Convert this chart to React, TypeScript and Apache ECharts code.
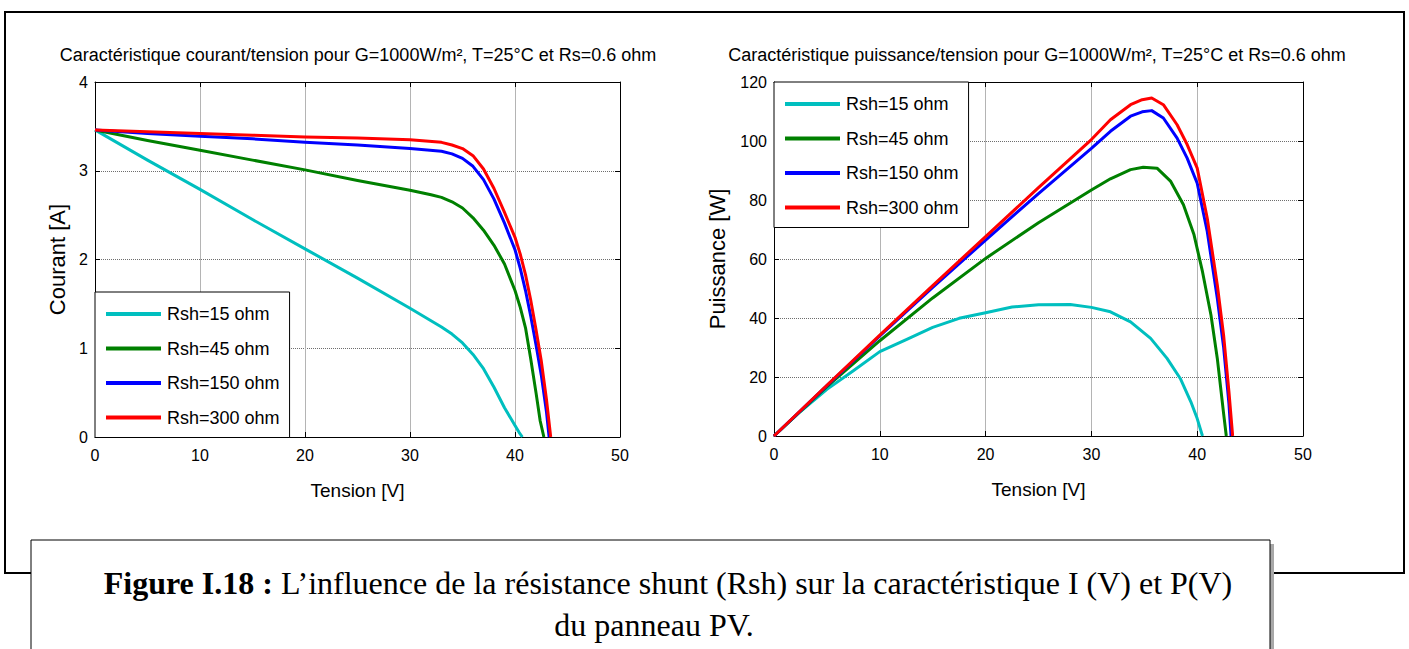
import React, { useEffect, useRef } from "react";
import * as echarts from "echarts";

// ---- Data ----
const seriesNames = ["Rsh=15 ohm", "Rsh=45 ohm", "Rsh=150 ohm", "Rsh=300 ohm"];
const seriesColors = ["#00BFBF", "#008000", "#0000FF", "#FF0000"];

// Current / voltage (left chart)
const ivV15 = [0, 5, 10, 15, 20, 25, 30, 33, 34, 35, 36, 37, 38, 39, 40, 40.4, 40.7];
const ivI15 = [3.46, 3.12, 2.79, 2.45, 2.12, 1.79, 1.45, 1.24, 1.16, 1.06, 0.93, 0.77, 0.56, 0.33, 0.13, 0.05, 0];
const ivV45 = [0, 5, 10, 15, 20, 25, 30, 32, 33, 34, 35, 36, 37, 38, 39, 40, 40.5, 41, 41.5, 42, 42.4, 42.75];
const ivI45 = [3.46, 3.34, 3.23, 3.12, 3.01, 2.89, 2.78, 2.73, 2.7, 2.65, 2.58, 2.47, 2.33, 2.16, 1.95, 1.65, 1.46, 1.23, 0.88, 0.5, 0.18, 0];
const ivV150 = [0, 5, 10, 15, 20, 25, 30, 33, 34, 35, 36, 37, 38, 39, 40, 40.5, 41, 41.5, 42, 42.5, 43, 43.25];
const ivI150 = [3.46, 3.42, 3.39, 3.36, 3.32, 3.29, 3.25, 3.22, 3.19, 3.14, 3.05, 2.9, 2.68, 2.41, 2.11, 1.9, 1.65, 1.36, 1.04, 0.7, 0.28, 0];
const ivV300 = [0, 5, 10, 15, 20, 25, 30, 33, 34, 35, 36, 37, 38, 39, 40, 40.5, 41, 41.5, 42, 42.5, 43, 43.4];
const ivI300 = [3.46, 3.44, 3.42, 3.4, 3.38, 3.37, 3.35, 3.32, 3.29, 3.25, 3.17, 3.02, 2.8, 2.53, 2.25, 2.06, 1.83, 1.54, 1.21, 0.86, 0.42, 0];

// Power / voltage (right chart)
const pvV15 = [0, 2.5, 5, 7.5, 10, 12.5, 15, 17.5, 20, 22.5, 25, 28, 30, 31.8, 33.7, 35.6, 37.15, 38.4, 39.4, 40, 40.5];
const pvP15 = [0, 8.3, 15.8, 22.1, 28.6, 32.7, 36.8, 39.9, 41.8, 43.7, 44.5, 44.6, 43.6, 42.1, 38.7, 33.1, 26.3, 19.5, 11.6, 5.9, 0];
const pvV45 = [0, 5, 10, 15, 20, 25, 30, 31.8, 33.7, 34.9, 36.2, 37.5, 38.7, 39.7, 40.5, 41.3, 41.9, 42.5, 42.75];
const pvP45 = [0, 16.7, 32.3, 46.8, 60.2, 72.3, 83.4, 87.2, 90.3, 91.1, 90.8, 86.3, 78.4, 68.2, 55.7, 41, 26.3, 7.5, 0];
const pvV150 = [0, 5, 10, 15, 20, 25, 30, 31.8, 33.7, 34.8, 35.7, 36.8, 38.1, 39.05, 40, 40.95, 41.9, 42.5, 43, 43.2];
const pvP150 = [0, 17.1, 33.9, 50.4, 66.4, 82.2, 97.5, 103.3, 108.4, 109.9, 110.3, 107.8, 101, 94.2, 85.7, 69.3, 46.7, 30, 11, 0];
const pvV300 = [0, 5, 10, 15, 20, 25, 30, 31.8, 33.7, 34.8, 35.7, 36.8, 38.1, 39.05, 40, 40.95, 41.9, 42.5, 43, 43.35];
const pvP300 = [0, 17.2, 34.2, 51, 67.6, 84.2, 100.5, 107.2, 112.3, 114, 114.6, 112.3, 105.5, 98.8, 90.8, 73.8, 51.2, 34, 15, 0];

const ivSets = [
  [ivV15, ivI15],
  [ivV45, ivI45],
  [ivV150, ivI150],
  [ivV300, ivI300],
];
const pvSets = [
  [pvV15, pvP15],
  [pvV45, pvP45],
  [pvV150, pvP150],
  [pvV300, pvP300],
];

const titleLeft = "Caractéristique courant/tension pour G=1000W/m², T=25°C et Rs=0.6 ohm";
const titleRight = "Caractéristique puissance/tension pour G=1000W/m², T=25°C et Rs=0.6 ohm";
const captionBold = "Figure I.18 :";
const captionLine1 = "L’influence de la résistance shunt (Rsh) sur la caractéristique I (V) et P(V)";
const captionLine2 = "du panneau PV.";

const SANS = '"Liberation Sans", Arial, sans-serif';
const SERIF = '"Liberation Serif", "Times New Roman", serif';

function pairs(xs: number[], ys: number[]) {
  return xs.map((x, k) => [x, ys[k]]);
}

export default function App() {
  const ref = useRef<HTMLDivElement>(null);
  useEffect(() => {
    if (!ref.current) return;
    const chart = echarts.init(ref.current, undefined, { renderer: "svg" });

    const grids = [
      { left: 95, top: 82, width: 525, height: 355 },
      { left: 774, top: 82, width: 529, height: 354 },
    ];

    const mainX = (gridIndex: number) => ({
      type: "value",
      gridIndex,
      min: 0,
      max: 50,
      interval: 10,
      position: "bottom",
      name: "Tension [V]",
      nameLocation: "middle",
      nameGap: 44,
      nameTextStyle: { fontFamily: SANS, fontSize: 19, color: "#000" },
      axisLine: { onZero: false, lineStyle: { color: "#000", width: 1 } },
      axisTick: { inside: true, length: 5, lineStyle: { color: "#000" } },
      axisLabel: { fontFamily: SANS, fontSize: 16, color: "#000", margin: 10 },
      splitLine: { show: true, lineStyle: { color: "#b4b4b4", width: 1 } },
    });
    const topX = (gridIndex: number) => ({
      type: "value",
      gridIndex,
      min: 0,
      max: 50,
      interval: 10,
      position: "top",
      axisLine: { onZero: false, lineStyle: { color: "#000", width: 1 } },
      axisTick: { inside: true, length: 5, lineStyle: { color: "#000" } },
      axisLabel: { show: false },
      splitLine: { show: false },
    });
    const mainY = (gridIndex: number, max: number, interval: number, name: string, nameGap: number) => ({
      type: "value",
      gridIndex,
      min: 0,
      max,
      interval,
      position: "left",
      name,
      nameLocation: "middle",
      nameGap,
      nameTextStyle: { fontFamily: SANS, fontSize: 22, color: "#000" },
      axisLine: { onZero: false, lineStyle: { color: "#000", width: 1 } },
      axisTick: { inside: true, length: 5, lineStyle: { color: "#000" } },
      axisLabel: { fontFamily: SANS, fontSize: 16, color: "#000", margin: 7 },
      splitLine: { show: true, lineStyle: { color: "#6e6e6e", width: 1, type: [1, 1] } },
    });
    const rightY = (gridIndex: number, max: number, interval: number) => ({
      type: "value",
      gridIndex,
      min: 0,
      max,
      interval,
      position: "right",
      axisLine: { onZero: false, lineStyle: { color: "#000", width: 1 } },
      axisTick: { inside: true, length: 5, lineStyle: { color: "#000" } },
      axisLabel: { show: false },
      splitLine: { show: false },
    });

    const lineSeries = (k: number, xs: number[], ys: number[], xAxisIndex: number, yAxisIndex: number) => ({
      type: "line",
      name: seriesNames[k],
      xAxisIndex,
      yAxisIndex,
      data: pairs(xs, ys),
      showSymbol: false,
      symbol: "none",
      smooth: false,
      lineStyle: { color: seriesColors[k], width: 3, join: "round" },
      itemStyle: { color: seriesColors[k] },
      z: 3 + k,
    });

    const legendBase = {
      orient: "vertical",
      icon: "rect",
      itemWidth: 55,
      itemHeight: 4,
      itemGap: 16.5,
      padding: [13, 10, 11, 11],
      backgroundColor: "#fff",
      borderColor: "#000",
      borderWidth: 1,
      borderRadius: 0,
      selectedMode: false,
      textStyle: { fontFamily: SANS, fontSize: 18, color: "#000", padding: [0, 0, 0, 1] },
      data: seriesNames,
      z: 10,
    };

    const titleStyle = { fontFamily: SANS, fontSize: 18, fontWeight: "normal", color: "#000" };

    const option: any = {
      animation: false,
      backgroundColor: "#fff",
      title: [
        { text: titleLeft, left: 358, top: 46, padding: 0, textAlign: "center", textStyle: titleStyle },
        { text: titleRight, left: 1037, top: 46, padding: 0, textAlign: "center", textStyle: titleStyle },
      ],
      grid: grids,
      legend: [
        { ...legendBase, left: 95, top: 292 },
        { ...legendBase, left: 774, top: 82 },
      ],
      xAxis: [mainX(0), topX(0), mainX(1), topX(1)],
      yAxis: [
        mainY(0, 4, 1, "Courant [A]", 27),
        rightY(0, 4, 1),
        mainY(1, 120, 20, "Puissance [W]", 46),
        rightY(1, 120, 20),
      ],
      series: [
        ...ivSets.map((s, k) => lineSeries(k, s[0], s[1], 0, 0)),
        ...pvSets.map((s, k) => lineSeries(k, s[0], s[1], 2, 2)),
      ],
      graphic: [
        {
          type: "rect",
          shape: { x: 5, y: 12, width: 1399, height: 561 },
          style: { fill: "none", stroke: "#000", lineWidth: 2 },
          z: 1,
          silent: true,
        },
        {
          type: "rect",
          shape: { x: 35, y: 544, width: 1239, height: 120 },
          style: { fill: "#a8a8a8", stroke: "none" },
          z: 20,
          silent: true,
        },
        {
          type: "rect",
          shape: { x: 31, y: 540, width: 1239, height: 120 },
          style: { fill: "#fff", stroke: "#000", lineWidth: 1 },
          z: 21,
          silent: true,
        },
        {
          type: "text",
          x: 668,
          y: 583,
          z: 22,
          silent: true,
          style: {
            text: "{b|" + captionBold + "} {n|" + captionLine1 + "}",
            align: "center",
            verticalAlign: "middle",
            textAlign: "center",
            textVerticalAlign: "middle",
            fontFamily: SERIF,
            fontSize: 32,
            fill: "#000",
            rich: {
              b: { fontFamily: SERIF, fontSize: 32, fontWeight: "bold", fill: "#000" },
              n: { fontFamily: SERIF, fontSize: 32, fill: "#000" },
            },
          },
        },
        {
          type: "text",
          x: 654,
          y: 625,
          z: 22,
          silent: true,
          style: {
            text: captionLine2,
            align: "center",
            verticalAlign: "middle",
            textAlign: "center",
            textVerticalAlign: "middle",
            fontFamily: SERIF,
            fontSize: 32,
            fill: "#000",
          },
        },
      ],
    };

    chart.setOption(option);
    return () => chart.dispose();
  }, []);

  return (
    <div
      ref={ref}
      style={{ position: "fixed", left: 0, top: 0, width: 1409, height: 649, background: "#fff" }}
    />
  );
}
